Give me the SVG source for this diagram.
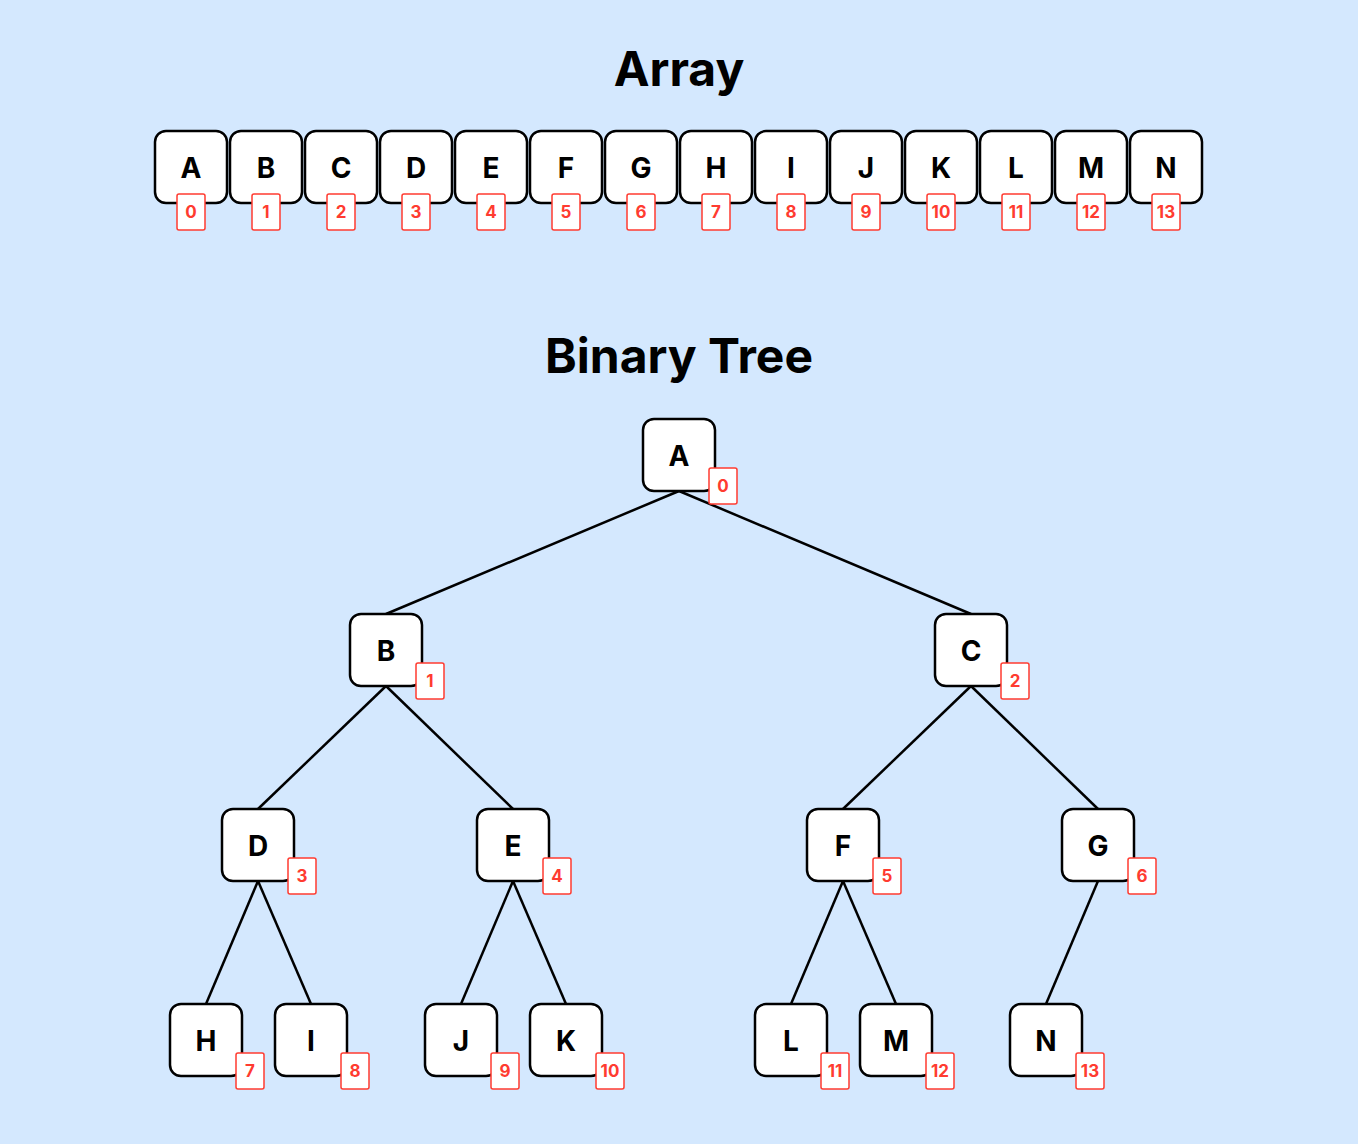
<svg xmlns="http://www.w3.org/2000/svg" width="1358" height="1144" viewBox="0 0 1358 1144">
<style>
.bg{fill:#d4e8fe}
.title{font-family:"Inter","Liberation Sans",sans-serif;font-weight:700;font-size:48px;fill:#000;text-anchor:middle}
.b{fill:#fff;stroke:#000;stroke-width:2.5}
.l{font-family:"Inter","Liberation Sans",sans-serif;font-weight:700;font-size:28px;fill:#000;text-anchor:middle;dominant-baseline:central}
.i{fill:#fff;stroke:#ff3b30;stroke-width:1.5}
.it{font-family:"Inter","Liberation Sans",sans-serif;font-weight:700;font-size:17px;fill:#ff3b30;text-anchor:middle;dominant-baseline:central}
.e line{stroke:#000;stroke-width:2.5}
</style>
<rect class="bg" width="1358" height="1144"/>
<text class="title" x="679" y="86">Array</text>
<text class="title" x="679" y="373">Binary Tree</text>
<g id="array">
<g id="arr-A" transform="translate(191,167)"><rect class="b" x="-36" y="-36" width="72" height="72" rx="11"/><text class="l" y="1">A</text><rect class="i" x="-14" y="27" width="28" height="36" rx="2"/><text class="it" y="45">0</text></g>
<g id="arr-B" transform="translate(266,167)"><rect class="b" x="-36" y="-36" width="72" height="72" rx="11"/><text class="l" y="1">B</text><rect class="i" x="-14" y="27" width="28" height="36" rx="2"/><text class="it" y="45">1</text></g>
<g id="arr-C" transform="translate(341,167)"><rect class="b" x="-36" y="-36" width="72" height="72" rx="11"/><text class="l" y="1">C</text><rect class="i" x="-14" y="27" width="28" height="36" rx="2"/><text class="it" y="45">2</text></g>
<g id="arr-D" transform="translate(416,167)"><rect class="b" x="-36" y="-36" width="72" height="72" rx="11"/><text class="l" y="1">D</text><rect class="i" x="-14" y="27" width="28" height="36" rx="2"/><text class="it" y="45">3</text></g>
<g id="arr-E" transform="translate(491,167)"><rect class="b" x="-36" y="-36" width="72" height="72" rx="11"/><text class="l" y="1">E</text><rect class="i" x="-14" y="27" width="28" height="36" rx="2"/><text class="it" y="45">4</text></g>
<g id="arr-F" transform="translate(566,167)"><rect class="b" x="-36" y="-36" width="72" height="72" rx="11"/><text class="l" y="1">F</text><rect class="i" x="-14" y="27" width="28" height="36" rx="2"/><text class="it" y="45">5</text></g>
<g id="arr-G" transform="translate(641,167)"><rect class="b" x="-36" y="-36" width="72" height="72" rx="11"/><text class="l" y="1">G</text><rect class="i" x="-14" y="27" width="28" height="36" rx="2"/><text class="it" y="45">6</text></g>
<g id="arr-H" transform="translate(716,167)"><rect class="b" x="-36" y="-36" width="72" height="72" rx="11"/><text class="l" y="1">H</text><rect class="i" x="-14" y="27" width="28" height="36" rx="2"/><text class="it" y="45">7</text></g>
<g id="arr-I" transform="translate(791,167)"><rect class="b" x="-36" y="-36" width="72" height="72" rx="11"/><text class="l" y="1">I</text><rect class="i" x="-14" y="27" width="28" height="36" rx="2"/><text class="it" y="45">8</text></g>
<g id="arr-J" transform="translate(866,167)"><rect class="b" x="-36" y="-36" width="72" height="72" rx="11"/><text class="l" y="1">J</text><rect class="i" x="-14" y="27" width="28" height="36" rx="2"/><text class="it" y="45">9</text></g>
<g id="arr-K" transform="translate(941,167)"><rect class="b" x="-36" y="-36" width="72" height="72" rx="11"/><text class="l" y="1">K</text><rect class="i" x="-14" y="27" width="28" height="36" rx="2"/><text class="it" y="45">10</text></g>
<g id="arr-L" transform="translate(1016,167)"><rect class="b" x="-36" y="-36" width="72" height="72" rx="11"/><text class="l" y="1">L</text><rect class="i" x="-14" y="27" width="28" height="36" rx="2"/><text class="it" y="45">11</text></g>
<g id="arr-M" transform="translate(1091,167)"><rect class="b" x="-36" y="-36" width="72" height="72" rx="11"/><text class="l" y="1">M</text><rect class="i" x="-14" y="27" width="28" height="36" rx="2"/><text class="it" y="45">12</text></g>
<g id="arr-N" transform="translate(1166,167)"><rect class="b" x="-36" y="-36" width="72" height="72" rx="11"/><text class="l" y="1">N</text><rect class="i" x="-14" y="27" width="28" height="36" rx="2"/><text class="it" y="45">13</text></g>
</g>
<g id="edges" class="e">
<line x1="679" y1="491" x2="386" y2="614"/>
<line x1="679" y1="491" x2="971" y2="614"/>
<line x1="386" y1="686" x2="258" y2="809"/>
<line x1="386" y1="686" x2="513" y2="809"/>
<line x1="971" y1="686" x2="843" y2="809"/>
<line x1="971" y1="686" x2="1098" y2="809"/>
<line x1="258" y1="881" x2="206" y2="1004"/>
<line x1="258" y1="881" x2="311" y2="1004"/>
<line x1="513" y1="881" x2="461" y2="1004"/>
<line x1="513" y1="881" x2="566" y2="1004"/>
<line x1="843" y1="881" x2="791" y2="1004"/>
<line x1="843" y1="881" x2="896" y2="1004"/>
<line x1="1098" y1="881" x2="1046" y2="1004"/>
</g>
<g id="tree">
<g id="t-A" transform="translate(679,455)"><rect class="b" x="-36" y="-36" width="72" height="72" rx="11"/><text class="l" y="1">A</text><rect class="i" x="30" y="13" width="28" height="36" rx="2"/><text class="it" x="44" y="31">0</text></g>
<g id="t-B" transform="translate(386,650)"><rect class="b" x="-36" y="-36" width="72" height="72" rx="11"/><text class="l" y="1">B</text><rect class="i" x="30" y="13" width="28" height="36" rx="2"/><text class="it" x="44" y="31">1</text></g>
<g id="t-C" transform="translate(971,650)"><rect class="b" x="-36" y="-36" width="72" height="72" rx="11"/><text class="l" y="1">C</text><rect class="i" x="30" y="13" width="28" height="36" rx="2"/><text class="it" x="44" y="31">2</text></g>
<g id="t-D" transform="translate(258,845)"><rect class="b" x="-36" y="-36" width="72" height="72" rx="11"/><text class="l" y="1">D</text><rect class="i" x="30" y="13" width="28" height="36" rx="2"/><text class="it" x="44" y="31">3</text></g>
<g id="t-E" transform="translate(513,845)"><rect class="b" x="-36" y="-36" width="72" height="72" rx="11"/><text class="l" y="1">E</text><rect class="i" x="30" y="13" width="28" height="36" rx="2"/><text class="it" x="44" y="31">4</text></g>
<g id="t-F" transform="translate(843,845)"><rect class="b" x="-36" y="-36" width="72" height="72" rx="11"/><text class="l" y="1">F</text><rect class="i" x="30" y="13" width="28" height="36" rx="2"/><text class="it" x="44" y="31">5</text></g>
<g id="t-G" transform="translate(1098,845)"><rect class="b" x="-36" y="-36" width="72" height="72" rx="11"/><text class="l" y="1">G</text><rect class="i" x="30" y="13" width="28" height="36" rx="2"/><text class="it" x="44" y="31">6</text></g>
<g id="t-H" transform="translate(206,1040)"><rect class="b" x="-36" y="-36" width="72" height="72" rx="11"/><text class="l" y="1">H</text><rect class="i" x="30" y="13" width="28" height="36" rx="2"/><text class="it" x="44" y="31">7</text></g>
<g id="t-I" transform="translate(311,1040)"><rect class="b" x="-36" y="-36" width="72" height="72" rx="11"/><text class="l" y="1">I</text><rect class="i" x="30" y="13" width="28" height="36" rx="2"/><text class="it" x="44" y="31">8</text></g>
<g id="t-J" transform="translate(461,1040)"><rect class="b" x="-36" y="-36" width="72" height="72" rx="11"/><text class="l" y="1">J</text><rect class="i" x="30" y="13" width="28" height="36" rx="2"/><text class="it" x="44" y="31">9</text></g>
<g id="t-K" transform="translate(566,1040)"><rect class="b" x="-36" y="-36" width="72" height="72" rx="11"/><text class="l" y="1">K</text><rect class="i" x="30" y="13" width="28" height="36" rx="2"/><text class="it" x="44" y="31">10</text></g>
<g id="t-L" transform="translate(791,1040)"><rect class="b" x="-36" y="-36" width="72" height="72" rx="11"/><text class="l" y="1">L</text><rect class="i" x="30" y="13" width="28" height="36" rx="2"/><text class="it" x="44" y="31">11</text></g>
<g id="t-M" transform="translate(896,1040)"><rect class="b" x="-36" y="-36" width="72" height="72" rx="11"/><text class="l" y="1">M</text><rect class="i" x="30" y="13" width="28" height="36" rx="2"/><text class="it" x="44" y="31">12</text></g>
<g id="t-N" transform="translate(1046,1040)"><rect class="b" x="-36" y="-36" width="72" height="72" rx="11"/><text class="l" y="1">N</text><rect class="i" x="30" y="13" width="28" height="36" rx="2"/><text class="it" x="44" y="31">13</text></g>
</g>
</svg>
